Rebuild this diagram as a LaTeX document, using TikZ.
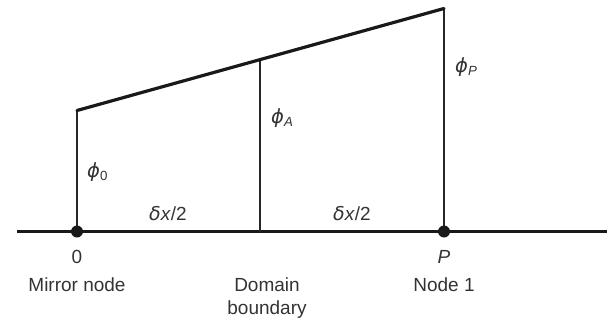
\documentclass[tikz,border=0pt]{standalone}
\usepackage{fontspec}
\setmainfont{Liberation Sans}
\newfontfamily\grk{DejaVu Sans}
\newcommand{\myphi}{{\grk\itshape\fontsize{19.5}{21}\selectfont ϕ}}
\newcommand{\mydelta}{{\grk\itshape δ}}
\begin{document}
\begin{tikzpicture}[x=1pt,y=-1pt,
  lbl/.style={font=\fontsize{19}{22}\selectfont, text=black!80, inner sep=0pt},
  thinline/.style={line width=1.3pt, draw=black!85},
  axisline/.style={line width=2.2pt, draw=black!90},
  topline/.style={line width=3.2pt, draw=black!90, line cap=round},
  dot/.style={circle, fill=black!90, minimum size=12pt, inner sep=0pt}]
\useasboundingbox (0,0) rectangle (607,321);
\coordinate (L) at (17,231.5);
\coordinate (R) at (607,231.5);
\coordinate (B0) at (77,231.5);
\coordinate (BA) at (260,231.5);
\coordinate (BP) at (444,231.5);
\coordinate (T0) at (77,110.5);
\coordinate (TA) at (260,60);
\coordinate (TP) at (444,8.5);
\draw[axisline] (L) -- (R);
\draw[thinline] (B0) -- (T0);
\draw[thinline] (BA) -- (TA);
\draw[thinline] (BP) -- (TP);
\draw[topline] (T0) -- (TP);
\node[dot] (n0) at (B0) {};
\node[dot] (nP) at (BP) {};
\node[lbl, anchor=west] (phi0) at (87,172) {\myphi\textsubscript{0}};
\node[lbl, anchor=west] (phiA) at (271,118) {\myphi\textsubscript{\itshape A}};
\node[lbl, anchor=west] (phiP) at (455,67) {\myphi\textsubscript{\itshape P}};
\node[lbl] (dx1) at (168,214) {\mydelta\textit{x}/2};
\node[lbl] (dx2) at (352,214) {\mydelta\textit{x}/2};
\node[lbl] (zero) at (77,257) {0};
\node[lbl] (P) at (444,257) {\itshape P};
\node[lbl] (mirror) at (77,285) {Mirror node};
\node[lbl, align=center] (domain) at (267,298) {Domain\\[1pt]boundary};
\node[lbl] (node1) at (444,285) {Node 1};
\end{tikzpicture}
\end{document}
